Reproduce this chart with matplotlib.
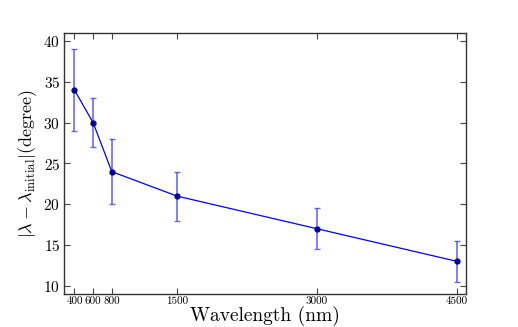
import matplotlib
matplotlib.use("Agg")
import matplotlib.pyplot as plt

wavelength = [400, 600, 800, 1500, 3000, 4500]
delta_angle = [34, 30, 24, 21, 17, 13]
errors = [5, 3, 4, 3, 2.5, 2.5]
xticks = [400, 600, 800, 1500, 3000, 4500]

plt.rcParams["font.family"] = "serif"
plt.rcParams["font.serif"] = ["cmr10", "DejaVu Serif"]
plt.rcParams["mathtext.fontset"] = "cm"
plt.rcParams["axes.formatter.use_mathtext"] = True

fig = plt.figure(figsize=(5.18, 3.27), dpi=100)
ax = fig.add_axes([0.124, 0.101, 0.776, 0.798])

ax.errorbar(wavelength, delta_angle, yerr=errors, fmt="none", ecolor="#4444ff",
            alpha=0.8, elinewidth=1.2, capsize=2, capthick=1)
ax.plot(wavelength, delta_angle, "-", color="blue", lw=0.9)
ax.plot(wavelength, delta_angle, "o", color="#0000aa", ms=3.5, mec="#000088")

ax.set_xlim(290, 4600)
ax.set_ylim(9, 41)
ax.set_xticks(xticks)
ax.set_xticklabels([str(t) for t in xticks], fontsize=8)
ax.set_yticks([10, 15, 20, 25, 30, 35, 40])
ax.tick_params(axis="y", labelsize=11, pad=3)
ax.tick_params(axis="x", pad=2)
ax.tick_params(direction="in", top=True, right=True, length=4, color="#444444")
for s in ax.spines.values():
    s.set_color("#333333")
    s.set_linewidth(1.0)

ax.set_xlabel("Wavelength (nm)", fontsize=14, labelpad=0)
ax.set_ylabel(r"$|\lambda - \lambda_{\rm initial}|$(degree)", fontsize=13, labelpad=3)

fig.savefig("out.png", dpi=100)
